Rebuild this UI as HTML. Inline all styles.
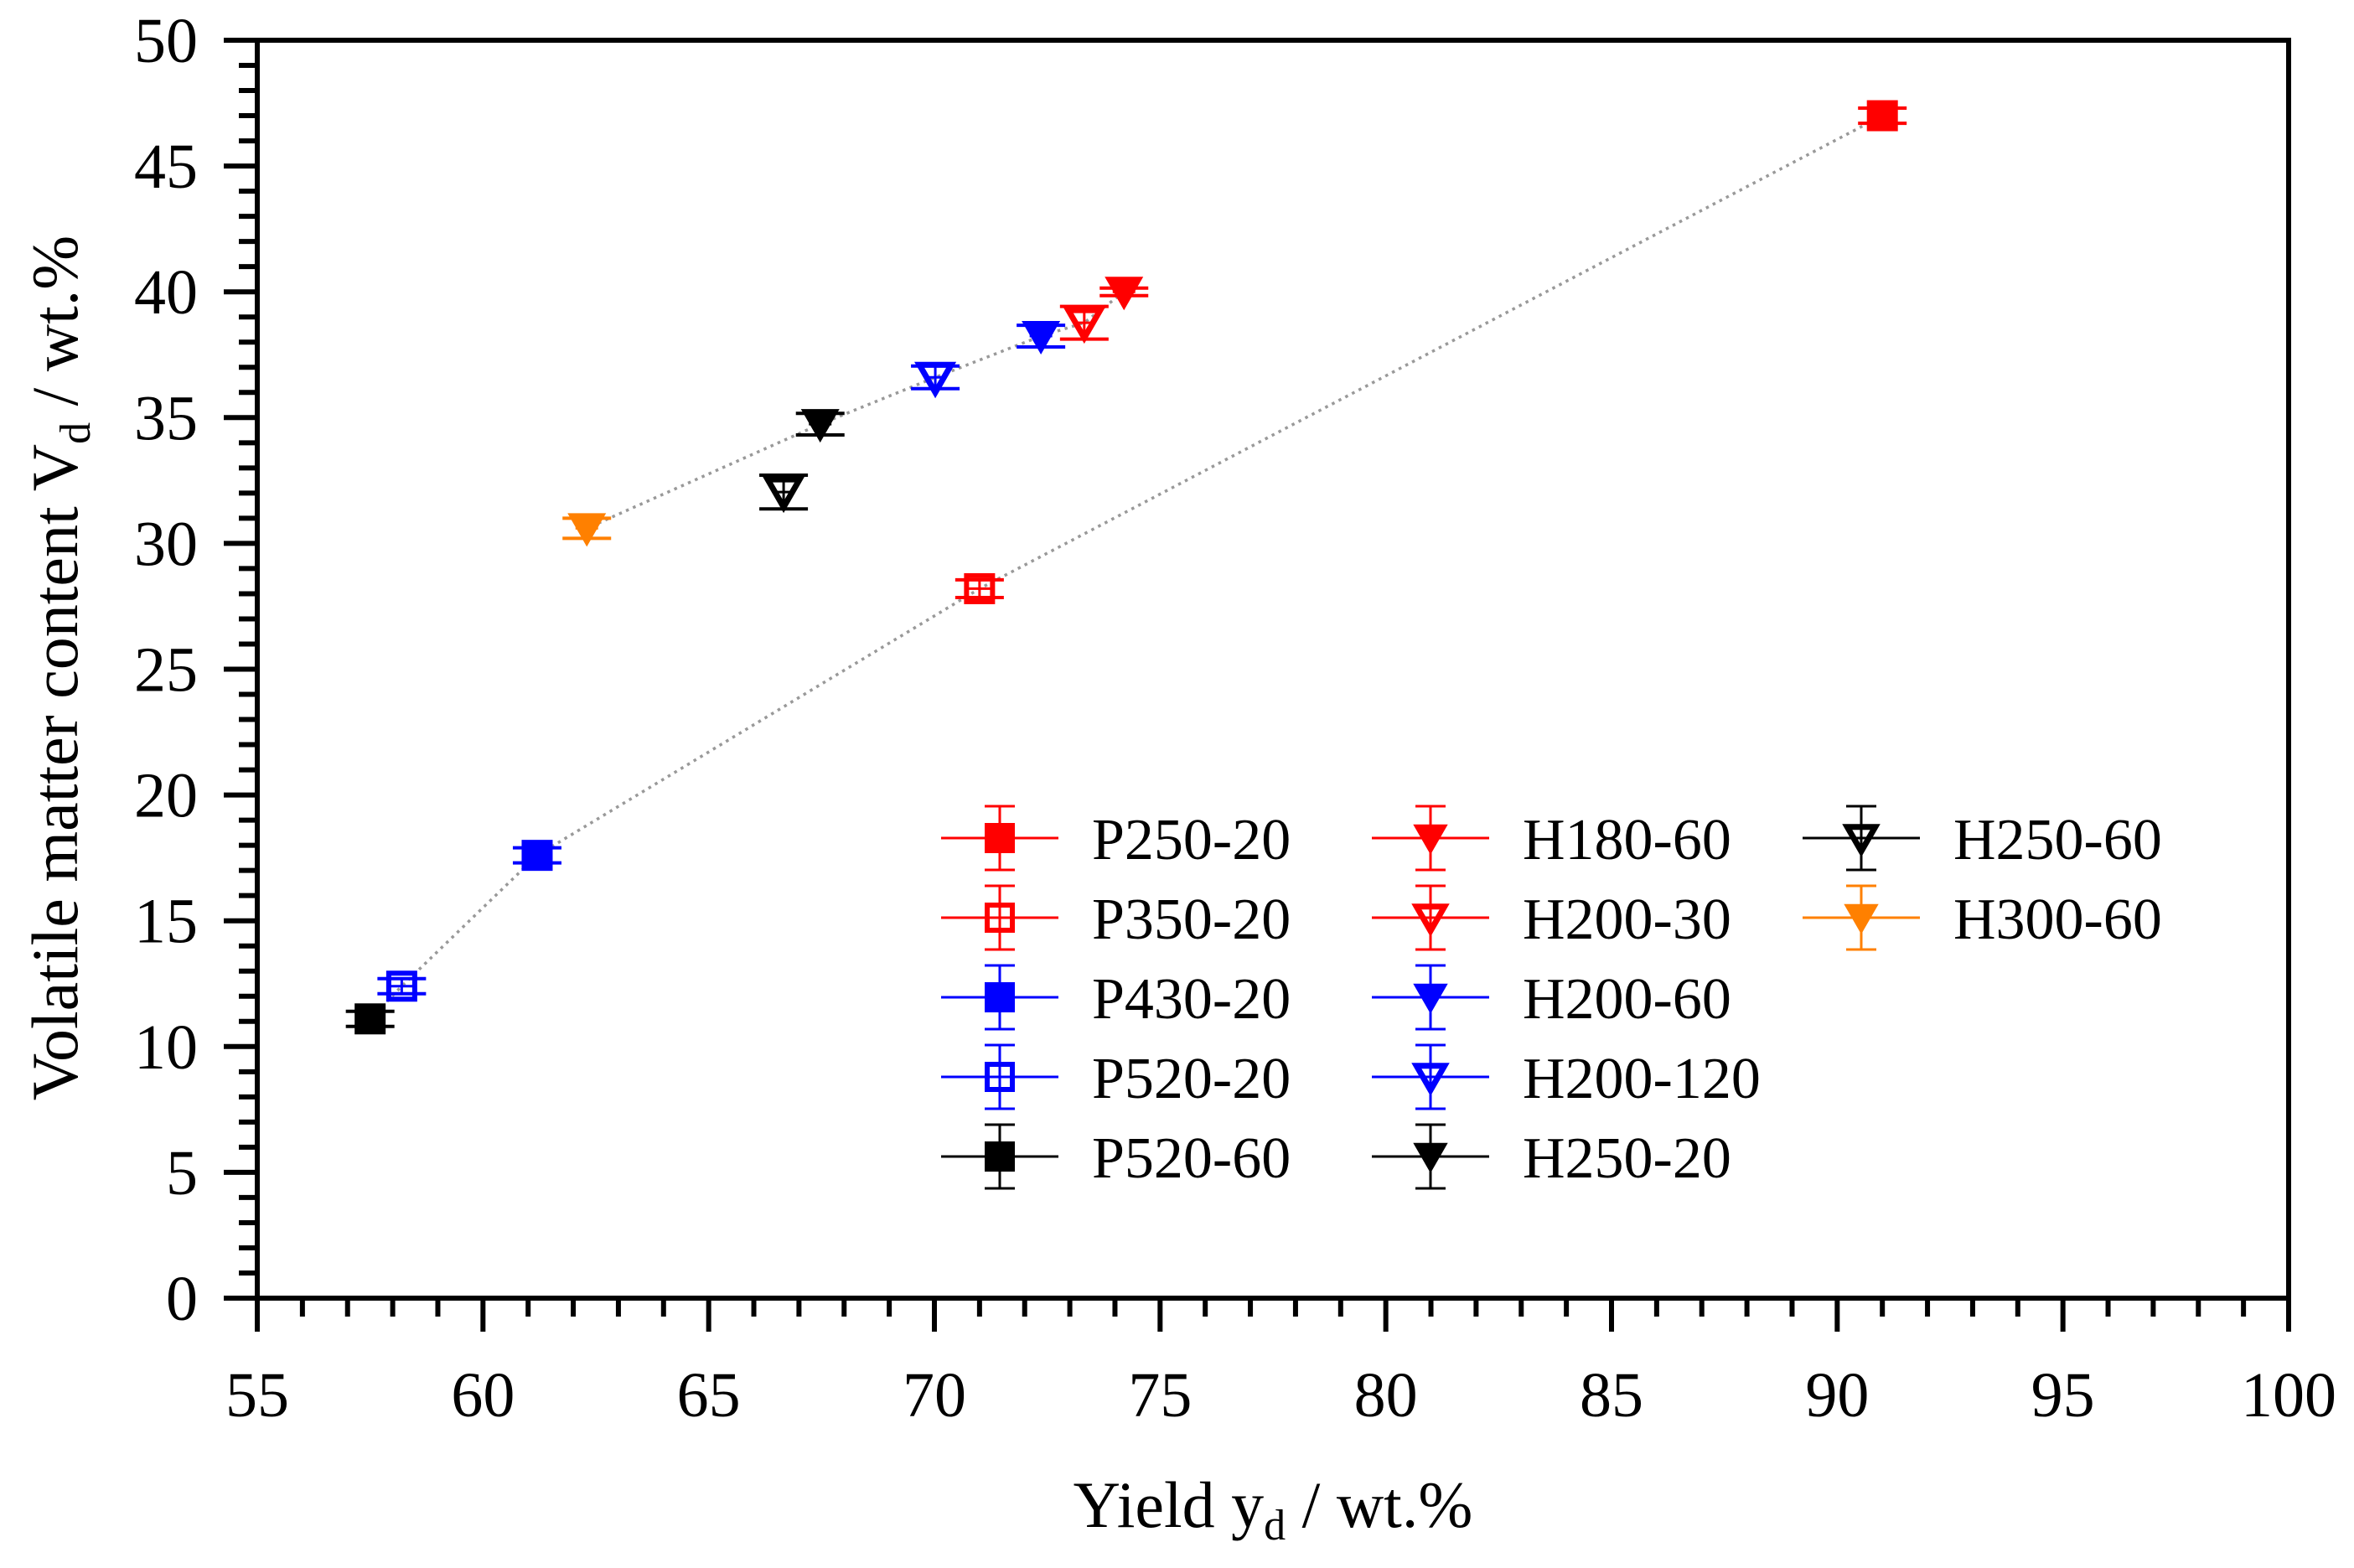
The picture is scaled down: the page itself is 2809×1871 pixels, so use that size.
<!DOCTYPE html>
<html><head><meta charset="utf-8"><style>
html,body{margin:0;padding:0;background:#fff;}
svg{display:block;font-family:"Liberation Serif",serif;}
</style></head><body>
<svg id="chart" width="2809" height="1871" viewBox="0 0 2809 1871">
<g id="axes"></g>
<g id="lines"></g>
<g id="points"></g>
<g id="legend"></g>
<text x="1519" y="1822" font-size="78" text-anchor="middle">Yield y<tspan font-size="52" dy="15">d</tspan><tspan dy="-15"> / wt.%</tspan></text>
<text transform="translate(92,797) rotate(-90)" font-size="78" text-anchor="middle">Volatile matter content V<tspan font-size="52" dy="15">d</tspan><tspan dy="-15"> / wt.%</tspan></text>
</svg>
<script>
const names = ["P250-20","P350-20","P430-20","P520-20","P520-60","H180-60","H200-30","H200-60","H200-120","H250-20","H250-60","H300-60"];
const xVals = [91.0,71.0,61.2,58.2,57.5,74.2,73.32,72.36,70.02,67.47,66.66,62.3];
const yVals = [47.0,28.2,17.6,12.4,11.1,40.0,38.77,38.24,36.6,34.74,32.04,30.6];
const yErr = [0.3,0.35,0.3,0.3,0.3,0.15,0.65,0.43,0.45,0.43,0.67,0.4];
const xErr = [0.25,0.25,0.25,0.25,0.25,0.25,0.25,0.25,0.25,0.25,0.25,0.25];
const colors = ["#ff0000","#ff0000","#0000ff","#0000ff","#000000","#ff0000","#ff0000","#0000ff","#0000ff","#000000","#000000","#ff8000"];
const shapes = ["sq","osq","sq","osq","sq","tri","otri","tri","otri","tri","otri","tri"];
const pLine = [0,1,2,3,4];
const hLine = [5,6,7,8,9,11];
const xTicks = [55,60,65,70,75,80,85,90,95,100];
const yTicks = [0,5,10,15,20,25,30,35,40,45,50];

const L=307,R=2731,T=48,B=1549;
const sx=v=>L+(v-55)/(100-55)*(R-L);
const sy=v=>B-(v-0)/50*(B-T);
const NS="http://www.w3.org/2000/svg";
function mk(tag,attrs,parent){const e=document.createElementNS(NS,tag);for(const k in attrs)e.setAttribute(k,attrs[k]);parent.appendChild(e);return e;}
const axes=document.getElementById('axes');
let fr=mk('rect',{x:L,y:T,width:R-L,height:B-T,fill:'none',stroke:'#000','stroke-width':6},axes);


for(let v=55;v<=100;v++){
  const major=(v%5===0);
  const t=mk('line',{x1:sx(v),x2:sx(v),y1:B,y2:B+(major?40:22),stroke:'#000','stroke-width':6},axes);
  
  
}
for(let v=0;v<=50;v++){
  const major=(v%5===0);
  const t=mk('line',{x1:L,x2:L-(major?40:22),y1:sy(v),y2:sy(v),stroke:'#000','stroke-width':6},axes);
  
  
}
xTicks.forEach(v=>{const t=mk('text',{x:sx(v),y:1690,'font-size':76,'text-anchor':'middle'},axes);t.textContent=v;
  
  });
yTicks.forEach(v=>{const t=mk('text',{x:236,y:sy(v)+26,'font-size':76,'text-anchor':'end'},axes);t.textContent=v;
  
  });

const lines=document.getElementById('lines');
[pLine,hLine].forEach((arr,k)=>{
  const pts=arr.map(i=>sx(xVals[i])+','+sy(yVals[i])).join(' ');
  const pl=mk('polyline',{points:pts,fill:'none',stroke:'#999','stroke-width':3.5,'stroke-dasharray':'3.5 5.5'},lines);
  
  
});

function marker(g,shape,cx,cy,c,sz){
  const h=sz/2;
  if(shape==='sq'||shape==='osq'){
    const open=shape==='osq';
    mk('rect',{x:cx-h+(open?3:0),y:cy-h+(open?3:0),width:sz-(open?6:0),height:sz-(open?6:0),fill:open?'none':c,stroke:open?c:'none','stroke-width':6},g);
  } else {
    const open=shape==='otri';
    const w=sz*1.15;
    const p=`${cx-w/2+(open?4:0)},${cy-sz*0.45+(open?3:0)} ${cx+w/2-(open?4:0)},${cy-sz*0.45+(open?3:0)} ${cx},${cy+sz*0.55-(open?4:0)}`;
    mk('polygon',{points:p,fill:open?'none':c,stroke:open?c:'none','stroke-width':7,'stroke-linejoin':'miter'},g);
  }
}
const pts=document.getElementById('points');
names.forEach((n,i)=>{
  const g=mk('g',{},pts);
  
  
  const cx=sx(xVals[i]),cy=sy(yVals[i]),c=colors[i];
  const y1=sy(yVals[i]+yErr[i]),y2=sy(yVals[i]-yErr[i]);
  const x1=sx(xVals[i]-xErr[i]),x2=sx(xVals[i]+xErr[i]);
  mk('line',{x1:cx,x2:cx,y1:y1,y2:y2,stroke:c,'stroke-width':3},g);
  mk('line',{x1:cx-29,x2:cx+29,y1:y1,y2:y1,stroke:c,'stroke-width':4},g);
  mk('line',{x1:cx-29,x2:cx+29,y1:y2,y2:y2,stroke:c,'stroke-width':4},g);
  mk('line',{x1:x1,x2:x2,y1:cy,y2:cy,stroke:c,'stroke-width':3},g);
  marker(g,shapes[i],cx,cy,c,shapes[i].includes('sq')?37:40);
});

const leg=document.getElementById('legend');
const colX=[1193,1707,2221];
const rowY=[1000,1095,1190,1285,1380];
const legendOrder=[[0,1,2,3,4],[5,6,7,8,9],[10,11]];
legendOrder.forEach((col,ci)=>col.forEach((i,ri)=>{
  const g=mk('g',{},leg);
  
  
  const cx=colX[ci],cy=rowY[ri],c=colors[i];
  mk('line',{x1:cx-70,x2:cx+70,y1:cy,y2:cy,stroke:c,'stroke-width':3},g);
  mk('line',{x1:cx,x2:cx,y1:cy-38,y2:cy+38,stroke:c,'stroke-width':3},g);
  mk('line',{x1:cx-18,x2:cx+18,y1:cy-38,y2:cy-38,stroke:c,'stroke-width':3},g);
  mk('line',{x1:cx-18,x2:cx+18,y1:cy+38,y2:cy+38,stroke:c,'stroke-width':3},g);
  marker(g,shapes[i],cx,cy,c,36);
  const t=mk('text',{x:cx+110,y:cy+25,'font-size':70},g);
  t.textContent=names[i];
}));
</script>
</body></html>
